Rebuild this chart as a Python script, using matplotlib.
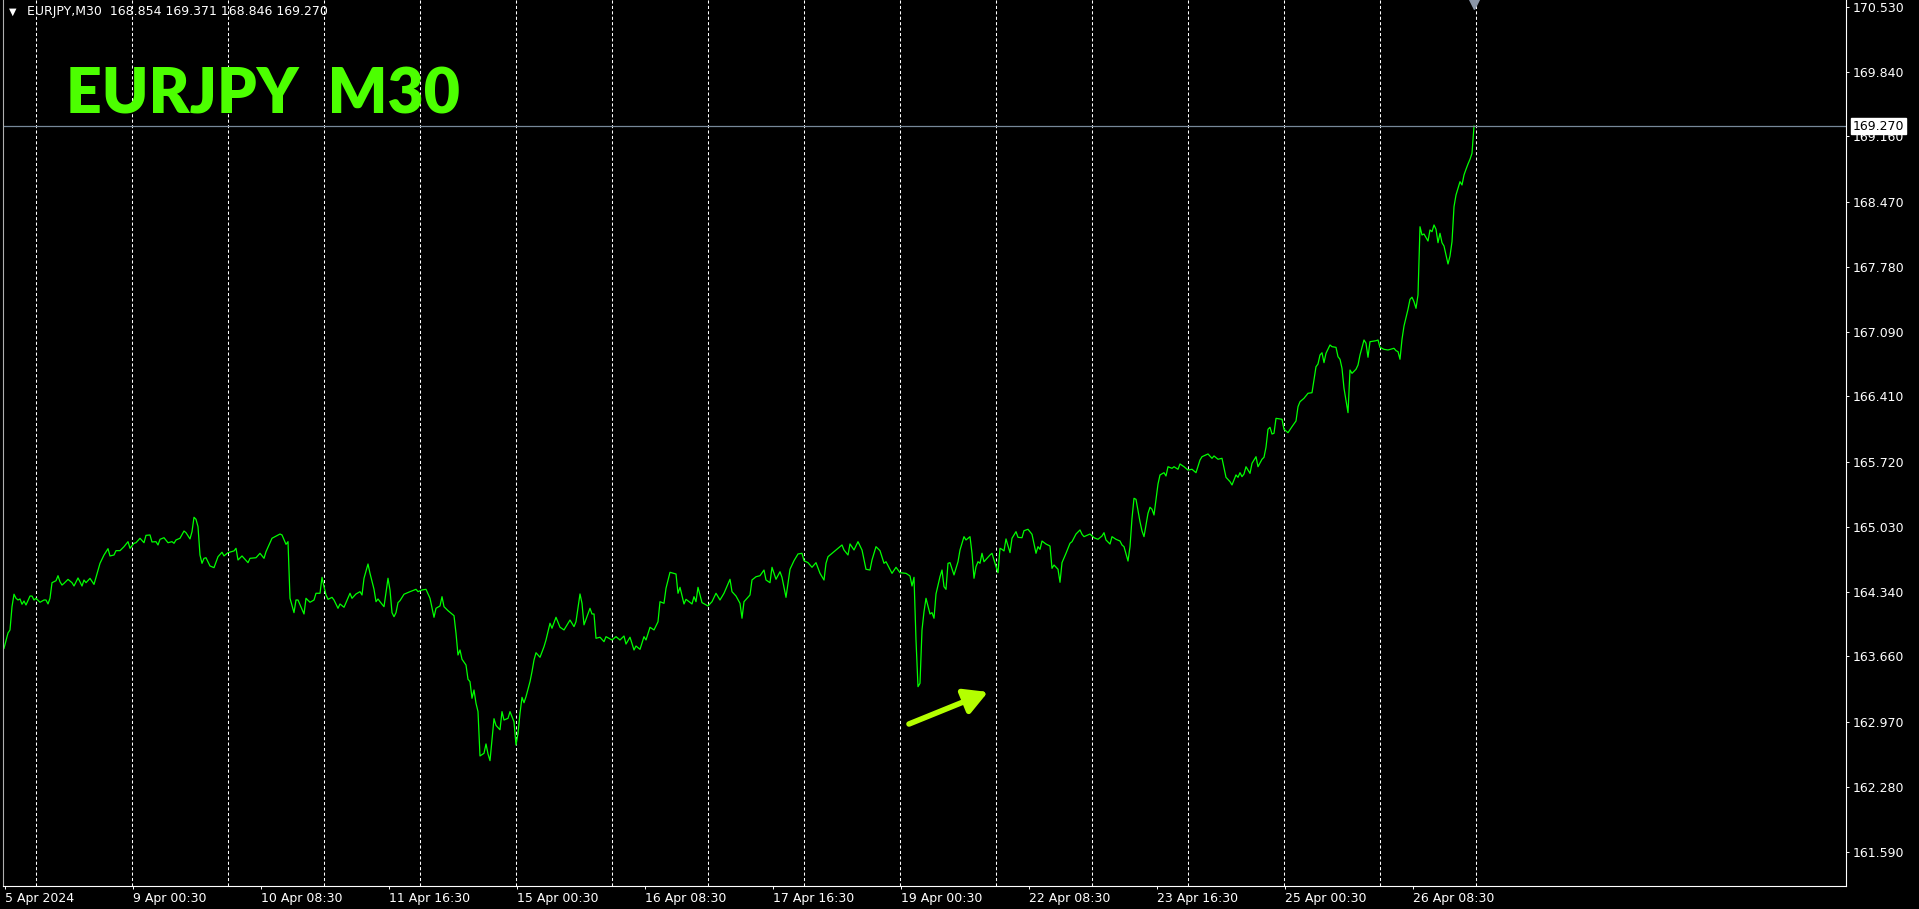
import numpy as np
import matplotlib
matplotlib.use('Agg')
import matplotlib.pyplot as plt

# EURJPY M30 closes (bar index, price)
bars = [0, 2, 3, 4, 5, 6, 7, 8, 9, 10, 11, 13, 14, 15, 16, 18, 20, 21, 22, 23,
        24, 26, 27, 28, 29, 30, 32, 34, 35, 37, 38, 39, 40, 41, 43, 45, 46, 47, 48, 50,
        52, 53, 55, 56, 58, 60, 62, 63, 65, 66, 68, 70, 71, 73, 74, 76, 77, 78, 80, 82,
        84, 85, 86, 88, 90, 91, 93, 94, 95, 96, 97, 98, 99, 100, 101, 103, 105, 107, 109, 110,
        112, 115, 116, 117, 119, 122, 123, 126, 128, 130, 131, 134, 138, 139, 141, 142, 143, 145, 146, 147,
        150, 151, 153, 155, 156, 158, 159, 160, 161, 162, 164, 165, 167, 168, 170, 171, 173, 174, 176, 178,
        179, 180, 182, 183, 185, 186, 187, 188, 190, 192, 193, 194, 195, 196, 197, 198, 200, 203, 206, 207,
        209, 211, 213, 215, 216, 218, 219, 220, 222, 225, 226, 227, 228, 229, 231, 232, 233, 234, 235, 236,
        237, 238, 240, 241, 242, 243, 244, 245, 246, 248, 249, 250, 252, 253, 255, 256, 257, 258, 259, 260,
        261, 263, 264, 265, 266, 268, 270, 271, 273, 274, 276, 278, 280, 283, 285, 286, 288, 289, 290, 293,
        294, 295, 296, 298, 300, 301, 304, 306, 308, 310, 311, 313, 315, 316, 318, 320, 321, 323, 325, 327,
        328, 330, 331, 333, 336, 337, 338, 340, 341, 344, 345, 346, 347, 349, 352, 354, 356, 358, 360, 363,
        364, 366, 368, 369, 370, 373, 374, 376, 378, 380, 381, 383, 384, 386, 388, 389, 391, 393, 395, 397,
        399, 400, 402, 404, 406, 408, 410, 411, 412, 415, 419, 420, 422, 423, 425, 427, 429, 431, 433, 434,
        436, 438, 440, 441, 444, 446, 448, 451, 453, 454, 455, 456, 457, 458, 459, 460, 461, 463, 464, 465,
        466, 468, 469, 470, 471, 472, 473, 475, 477, 478, 480, 481, 483, 484, 485, 486, 487, 488, 489, 490,
        493, 494, 495, 497, 498, 499, 500, 501, 503, 504, 506, 507, 509, 510, 512, 514, 516, 517, 518, 519,
        521, 523, 524, 525, 527, 528, 529, 531, 533, 534, 536, 538, 539, 540, 543, 545, 547, 549, 550, 551,
        553, 554, 556, 558, 559, 560, 562, 563, 564, 565, 566, 568, 569, 570, 572, 573, 574, 575, 577, 578,
        580, 581, 582, 584, 585, 587, 588, 590, 592, 594, 596, 598, 599, 602, 604, 605, 607, 609, 611, 613,
        614, 616, 617, 618, 619, 620, 621, 623, 624, 626, 627, 629, 630, 631, 632, 633, 634, 635, 636, 638,
        639, 640, 642, 644, 646, 647, 648, 650, 652, 654, 656, 657, 658, 659, 660, 661, 663, 664, 666, 667,
        668, 669, 670, 672, 673, 674, 676, 677, 678, 680, 681, 682, 683, 686, 687, 688, 690, 692, 695, 696,
        697, 698, 699, 700, 702, 703, 704, 705, 706, 707, 708, 709, 710, 712, 713, 714, 715, 716, 717, 718,
        719, 720, 722, 723, 724, 725, 726, 727, 728, 729, 730, 731, 732, 733, 734, 735]

prices = [163.745, 163.907, 163.939, 164.185, 164.317, 164.274, 164.256, 164.267, 164.211, 164.245,
          164.203, 164.298, 164.298, 164.256, 164.274, 164.232, 164.256, 164.256, 164.214, 164.274,
          164.439, 164.460, 164.513, 164.449, 164.414, 164.432, 164.474, 164.439, 164.404, 164.489,
          164.449, 164.404, 164.467, 164.439, 164.485, 164.421, 164.495, 164.565, 164.644, 164.732,
          164.799, 164.722, 164.732, 164.778, 164.778, 164.820, 164.873, 164.803, 164.856, 164.862,
          164.909, 164.862, 164.940, 164.944, 164.870, 164.873, 164.838, 164.898, 164.915, 164.862,
          164.873, 164.856, 164.891, 164.909, 164.986, 164.968, 164.902, 164.979, 165.131, 165.110,
          165.032, 164.732, 164.644, 164.697, 164.703, 164.616, 164.598, 164.714, 164.761, 164.722,
          164.757, 164.775, 164.803, 164.679, 164.722, 164.651, 164.697, 164.703, 164.750, 164.697,
          164.767, 164.909, 164.954, 164.944, 164.845, 164.873, 164.274, 164.122, 164.256, 164.256,
          164.108, 164.274, 164.232, 164.256, 164.327, 164.327, 164.496, 164.397, 164.309, 164.263,
          164.284, 164.256, 164.168, 164.214, 164.179, 164.228, 164.327, 164.274, 164.320, 164.344,
          164.309, 164.486, 164.637, 164.538, 164.369, 164.238, 164.267, 164.238, 164.185, 164.486,
          164.362, 164.122, 164.079, 164.122, 164.228, 164.249, 164.317, 164.344, 164.369, 164.344,
          164.362, 164.369, 164.274, 164.073, 164.168, 164.193, 164.291, 164.185, 164.143, 164.090,
          163.904, 163.674, 163.727, 163.629, 163.568, 163.417, 163.392, 163.216, 163.304, 163.163,
          163.075, 162.606, 162.634, 162.733, 162.627, 162.556, 162.778, 163.000, 162.929, 162.883,
          163.075, 162.986, 163.004, 163.075, 162.968, 162.722, 162.846, 163.057, 163.226, 163.169,
          163.233, 163.392, 163.498, 163.621, 163.698, 163.650, 163.762, 163.833, 164.010, 163.957,
          164.073, 163.968, 163.939, 164.044, 163.974, 164.027, 164.320, 164.221, 163.993, 164.168,
          164.108, 164.108, 163.851, 163.862, 163.815, 163.868, 163.833, 163.868, 163.833, 163.875,
          163.790, 163.862, 163.727, 163.769, 163.734, 163.868, 163.833, 163.967, 163.939, 164.026,
          164.238, 164.221, 164.380, 164.549, 164.531, 164.327, 164.390, 164.214, 164.263, 164.214,
          164.291, 164.238, 164.390, 164.228, 164.193, 164.238, 164.327, 164.256, 164.327, 164.475,
          164.344, 164.298, 164.221, 164.063, 164.238, 164.309, 164.468, 164.502, 164.513, 164.573,
          164.468, 164.439, 164.602, 164.475, 164.555, 164.496, 164.284, 164.581, 164.672, 164.743,
          164.750, 164.672, 164.651, 164.602, 164.651, 164.538, 164.467, 164.644, 164.714, 164.767,
          164.838, 164.785, 164.732, 164.849, 164.785, 164.873, 164.785, 164.581, 164.573, 164.679,
          164.820, 164.778, 164.644, 164.661, 164.538, 164.602, 164.545, 164.538, 164.510, 164.404,
          164.496, 163.833, 163.339, 163.375, 163.939, 164.132, 164.274, 164.108, 164.122, 164.063,
          164.320, 164.503, 164.573, 164.397, 164.369, 164.644, 164.651, 164.521, 164.661, 164.785,
          164.926, 164.891, 164.926, 164.750, 164.486, 164.608, 164.661, 164.644, 164.750, 164.661,
          164.732, 164.750, 164.679, 164.545, 164.803, 164.792, 164.775, 164.902, 164.757, 164.909,
          164.979, 164.919, 164.915, 164.989, 165.004, 164.951, 164.750, 164.820, 164.792, 164.880,
          164.848, 164.827, 164.591, 164.626, 164.581, 164.443, 164.651, 164.750, 164.856, 164.873,
          164.954, 164.997, 164.951, 164.926, 164.954, 164.915, 164.898, 164.933, 164.968, 164.891,
          164.848, 164.926, 164.898, 164.880, 164.838, 164.820, 164.668, 164.820, 165.120, 165.332,
          165.321, 165.084, 164.986, 164.926, 165.173, 165.237, 165.216, 165.155, 165.483, 165.579,
          165.603, 165.568, 165.666, 165.649, 165.666, 165.639, 165.695, 165.666, 165.631, 165.639,
          165.603, 165.737, 165.772, 165.801, 165.755, 165.780, 165.745, 165.755, 165.554, 165.508,
          165.473, 165.579, 165.554, 165.603, 165.561, 165.589, 165.666, 165.596, 165.702, 165.772,
          165.666, 165.745, 165.766, 165.872, 166.062, 166.083, 166.012, 166.020, 166.178, 166.171,
          166.168, 166.062, 166.026, 166.090, 166.150, 166.301, 166.354, 166.390, 166.443, 166.449,
          166.724, 166.753, 166.848, 166.872, 166.767, 166.866, 166.954, 166.936, 166.929, 166.830,
          166.803, 166.707, 166.496, 166.238, 166.689, 166.654, 166.697, 166.742, 166.848, 167.007,
          166.972, 166.824, 166.989, 166.999, 167.007, 166.929, 166.908, 166.901, 166.919, 166.894,
          166.883, 166.803, 167.014, 167.155, 167.332, 167.437, 167.459, 167.412, 167.342, 167.483,
          168.205, 168.118, 168.128, 168.054, 168.171, 168.153, 168.224, 168.178, 168.036, 168.136,
          168.036, 168.001, 167.811, 167.895, 168.047, 168.417, 168.541, 168.612, 168.682, 168.647,
          168.753, 168.813, 168.869, 168.919, 168.982, 169.270]

y_ticks = [170.530, 169.840, 169.160, 168.470, 167.780, 167.090, 166.410,
           165.720, 165.030, 164.340, 163.660, 162.970, 162.280, 161.590]
x_labels = ['5 Apr 2024', '9 Apr 00:30', '10 Apr 08:30', '11 Apr 16:30',
            '15 Apr 00:30', '16 Apr 08:30', '17 Apr 16:30', '19 Apr 00:30',
            '22 Apr 08:30', '23 Apr 16:30', '25 Apr 00:30', '26 Apr 08:30']
last_price = 169.270
ohlc_text = 'EURJPY,M30  168.854 169.371 168.846 169.270'

W, H = 1919, 909
fig = plt.figure(figsize=(W / 100, H / 100), dpi=100, facecolor='black')
ax = fig.add_axes([3 / W, 23 / H, 1843 / W, 886 / H])
ax.set_facecolor('black')

ax.plot(bars, prices, color='#00ff00', lw=0.9)
ax.axhline(last_price, color='#778899', lw=0.9)

ax.set_xlim(-0.5, 921)
ax.set_ylim(161.230, 170.604)

# day separators (dashed grid)
for gx in np.arange(16) * 48 + 15.85:
    ax.axvline(gx, color='white', lw=0.75, ls=(0, (3, 2.2)), zorder=0)

ax.set_xticks(np.arange(len(x_labels)) * 64 + 0.5)
ax.set_xticklabels(x_labels, ha='left')
ax.yaxis.tick_right()
ax.set_yticks(y_ticks)
ax.set_yticklabels(['%.3f' % v for v in y_ticks])
ax.tick_params(axis='both', colors='white', labelcolor='white', labelsize=9,
               length=2.2, width=0.7)
ax.tick_params(axis='y', pad=2.9)
ax.tick_params(axis='x', pad=2.0)

for side in ['left', 'right', 'bottom']:
    ax.spines[side].set_color('white')
    ax.spines[side].set_linewidth(0.8)
ax.spines['left'].set_color('#b0b0b0')
ax.spines['top'].set_visible(False)

# current price box on the price scale
ax.annotate('%.3f' % last_price, xy=(1, last_price),
            xycoords=('axes fraction', 'data'), xytext=(7, 0),
            textcoords='offset pixels', ha='left', va='center', fontsize=9,
            color='black', annotation_clip=False, zorder=10,
            bbox=dict(boxstyle='square,pad=0.15', fc='white', ec='white'))

# chart shift marker
ax.plot([735], [0.995], marker='v', ms=7, color='#8a96a8', mec='#8a96a8',
        transform=ax.get_xaxis_transform(), clip_on=False)

# header texts
fig.text(9 / W, 1 - 12 / H, '\u25bc', color='white', fontsize=7, va='center')
fig.text(27 / W, 1 - 12 / H, ohlc_text, color='white', fontsize=9, va='center')
fig.text(66 / W, 1 - 113 / H, 'EURJPY  M30', color='#4cff00', fontsize=45,
         fontfamily='Lato', fontweight='heavy', va='baseline')

# arrow
ax.annotate('', xy=(492, 163.283), xytext=(452.5, 162.944),
            arrowprops=dict(arrowstyle='-|>,head_length=1.0,head_width=0.55',
                            color='#b4ff00', lw=4, mutation_scale=14,
                            shrinkA=0, shrinkB=0))

fig.savefig('out.png', dpi=100, facecolor='black')
